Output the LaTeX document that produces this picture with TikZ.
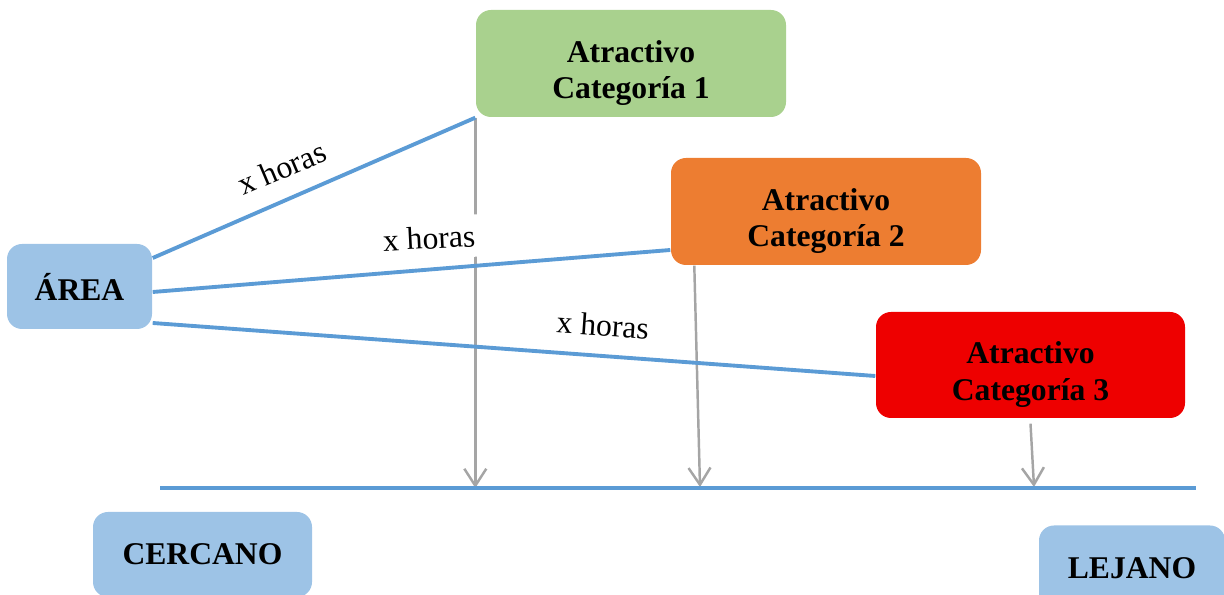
\documentclass[tikz,border=0pt]{standalone}
\usepackage{fontspec}
\setmainfont{Liberation Serif}
\usetikzlibrary{arrows.meta}
\definecolor{verde}{HTML}{A9D18E}
\definecolor{naranja}{HTML}{ED7D31}
\definecolor{rojo}{HTML}{EE0000}
\definecolor{celeste}{HTML}{9DC3E6}
\definecolor{azul}{HTML}{5B9BD5}
\definecolor{gris}{HTML}{A5A5A5}
\newcommand{\alza}{\rule{0pt}{4.1mm}}
\tikzset{box/.style = {rounded corners=0.15cm, inner sep=0, align=center, minimum width=3.1cm, minimum height=1.07cm, font=\fontsize{9}{10.5}\selectfont\bfseries}}
\tikzset{enlace/.style = {draw=azul, line width=1.1pt}}
\tikzset{flecha/.style = {draw=gris, line width=0.7pt, -{Straight Barb[length=1.7mm,width=2.2mm]}}}
\tikzset{horas/.style = {font=\fontsize{9}{10.5}\selectfont, inner sep=1mm}}

\begin{document}
\begin{tikzpicture}
            \useasboundingbox (0,0) rectangle (12.24,5.95);
            \clip (0,0) rectangle (12.24,5.95);
            \node [box, fill=verde] (cat1) at (6.31,5.315) {\alza Atractivo\\Categoría 1};
            \node [box, fill=naranja] (cat2) at (8.26,3.835) {\alza Atractivo\\Categoría 2};
            \node [box, fill=rojo, minimum width=3.09cm, minimum height=1.06cm] (cat3) at (10.305,2.30) {\alza Atractivo\\Categoría 3};
            \node [box, fill=celeste, minimum width=1.45cm, minimum height=0.85cm] (area) at (0.795,3.085) {ÁREA};
            \node [box, fill=celeste, minimum width=2.19cm, minimum height=0.85cm] (cercano) at (2.025,0.405) {CERCANO};
            \node [box, fill=celeste, minimum width=1.86cm, minimum height=0.85cm] (lejano) at (11.32,0.27) {LEJANO};
            \coordinate (ejeA) at (1.60,1.07);
            \coordinate (ejeB) at (11.96,1.07);
            \coordinate (p2) at (7.00,1.08);
            \coordinate (p3) at (10.34,1.08);
            \draw [flecha] (cat1.south west) -- (cat1.south west |- ejeA);
            \draw [flecha] ([xshift=0.24cm]cat2.south west) -- (p2);
            \draw [flecha] ([yshift=-0.05cm]cat3.south) -- (p3);
            \node [horas, rotate=23] (h1) at (2.82,4.27) {x horas};
            \node [horas, rotate=3, fill=white] (h2) at (4.29,3.57) {x horas};
            \node [horas, rotate=-4] (h3) at (6.03,2.70) {x horas};
            \draw [enlace] ([yshift=0.285cm]area.east) -- (cat1.south west);
            \draw [enlace] ([yshift=-0.055cm]area.east) -- ([yshift=-0.385cm]cat2.west);
            \draw [enlace] ([yshift=-0.365cm]area.east) -- ([yshift=-0.11cm]cat3.west);
            \draw [enlace, line width=1.2pt] (ejeA) -- (ejeB);
        \end{tikzpicture}
\end{document}
